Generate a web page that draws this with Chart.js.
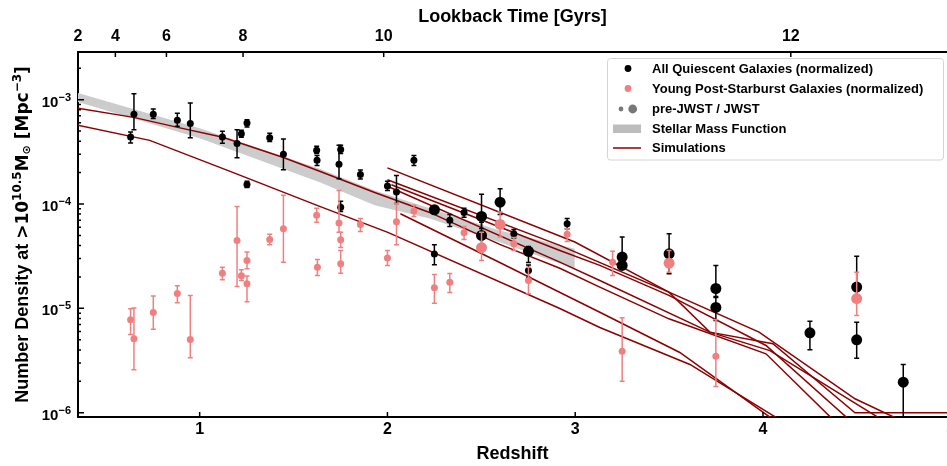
<!DOCTYPE html>
<html lang="en">
<head>
<meta charset="UTF-8">
<title>Quiescent galaxy number density</title>
<script src="https://cdn.jsdelivr.net/npm/chart.js"></script>
<style>
  html, body { margin: 0; padding: 0; background: #fff; overflow: hidden; }
  #wrap { width: 947px; height: 466px; }
</style>
</head>
<body>
<div id="wrap"><canvas id="grafico"></canvas></div>
<script>
// ---- values ----
// bottom axis (redshift) and top axis (lookback time, placed at redshift positions)
var zTicks = [1, 2, 3, 4, 5];
var lookbackLabels = ['2', '4', '6', '8', '10', '12'];
var lookbackZ = [0.352, 0.551, 0.823, 1.231, 1.980, 4.148];
var yTickVals = [1e-6, 1e-5, 1e-4, 1e-3];
var yTickExp = ['\u22126', '\u22125', '\u22124', '\u22123'];

// All quiescent galaxies, pre-JWST (small)
var qPreZ  = [0.632, 0.650, 0.753, 0.881, 0.950, 1.121, 1.199, 1.222, 1.252, 1.252, 1.373, 1.446, 1.623, 1.625, 1.742, 1.751, 1.751, 1.856, 2.000, 2.048, 2.141, 2.250, 2.332, 2.408, 2.673, 2.751, 2.957];
var qPreN  = [4.38e-4, 7.23e-4, 7.23e-4, 6.34e-4, 5.89e-4, 4.38e-4, 3.79e-4, 4.72e-4, 5.97e-4, 1.54e-4, 4.32e-4, 2.99e-4, 3.27e-4, 2.62e-4, 2.40e-4, 3.32e-4, 9.33e-5, 1.92e-4, 1.49e-4, 1.30e-4, 2.62e-4, 3.31e-5, 6.97e-5, 8.30e-5, 5.19e-5, 2.31e-5, 6.47e-5];
var qPreLo = [3.84e-4, 5.15e-4, 6.58e-4, 5.55e-4, 4.32e-4, 3.81e-4, 2.78e-4, 4.35e-4, 5.46e-4, 1.44e-4, 3.98e-4, 2.13e-4, 3.05e-4, 2.34e-4, 1.75e-4, 3.05e-4, 8.49e-5, 1.74e-4, 1.35e-4, 1.01e-4, 2.34e-4, 2.62e-5, 6.10e-5, 7.45e-5, 4.73e-5, 1.98e-5, 5.80e-5];
var qPreHi = [4.89e-4, 1.14e-3, 8.13e-4, 7.39e-4, 9.27e-4, 4.97e-4, 5.15e-4, 5.08e-4, 6.43e-4, 1.65e-4, 4.75e-4, 4.19e-4, 3.57e-4, 2.92e-4, 3.65e-4, 3.65e-4, 1.06e-4, 2.12e-4, 1.65e-4, 1.88e-4, 2.92e-4, 4.07e-5, 7.95e-5, 9.08e-5, 5.70e-5, 2.60e-5, 7.28e-5];

// All quiescent galaxies, JWST (large)
var qJwZ  = [2.250, 2.501, 2.501, 2.600, 2.751, 3.250, 3.250, 3.500, 3.749, 3.749, 4.250, 4.499, 4.499, 4.747];
var qJwN  = [8.81e-5, 7.60e-5, 5.00e-5, 1.04e-4, 3.52e-5, 3.10e-5, 2.58e-5, 3.33e-5, 1.55e-5, 1.02e-5, 5.83e-6, 1.60e-5, 5.00e-6, 1.96e-6];
var qJwLo = [8.10e-5, 5.83e-5, 4.01e-5, 7.94e-5, 2.75e-5, 2.60e-5, 2.42e-5, 2.15e-5, 1.30e-5, 7.66e-6, 4.01e-6, 1.19e-5, 3.33e-6, 5.00e-7];
var qJwHi = [9.50e-5, 1.24e-4, 6.67e-5, 1.40e-4, 3.92e-5, 4.82e-5, 3.00e-5, 5.19e-5, 2.58e-5, 1.27e-5, 7.53e-6, 3.15e-5, 7.38e-6, 2.90e-6];

// Young post-starburst galaxies, pre-JWST (small)
var pPreZ  = [0.330, 0.632, 0.650, 0.753, 0.881, 0.950, 1.121, 1.199, 1.222, 1.252, 1.252, 1.373, 1.446, 1.623, 1.627, 1.742, 1.751, 1.751, 1.856, 2.000, 2.048, 2.141, 2.250, 2.332, 2.408, 2.673, 2.751, 2.957, 3.199, 3.250, 3.749];
var pPreN  = [6.14e-6, 7.78e-6, 5.12e-6, 9.14e-6, 1.39e-5, 5.04e-6, 2.17e-5, 4.48e-5, 2.05e-5, 2.88e-5, 1.72e-5, 4.58e-5, 5.80e-5, 7.78e-5, 2.48e-5, 6.56e-5, 4.55e-5, 2.68e-5, 6.37e-5, 3.03e-5, 6.76e-5, 8.55e-5, 1.58e-5, 1.78e-5, 5.31e-5, 4.16e-5, 1.85e-5, 5.12e-5, 2.77e-5, 3.89e-6, 3.48e-6];
var pPreLo = [5.00e-6, 5.62e-6, 2.58e-6, 6.32e-6, 1.13e-5, 3.36e-6, 1.88e-5, 1.62e-5, 1.85e-5, 2.40e-5, 1.16e-5, 4.07e-5, 2.77e-5, 6.67e-5, 2.07e-5, 5.35e-5, 3.84e-5, 2.17e-5, 5.46e-5, 2.58e-5, 4.07e-5, 7.60e-5, 1.12e-5, 1.42e-5, 4.58e-5, 3.59e-5, 1.38e-5, 4.38e-5, 2.07e-5, 2.00e-6, 1.78e-6];
var pPreHi = [7.20e-6, 9.91e-6, 1.01e-5, 1.31e-5, 1.65e-5, 1.33e-5, 2.48e-5, 9.48e-5, 2.35e-5, 3.46e-5, 2.04e-5, 5.12e-5, 1.21e-4, 9.08e-5, 2.94e-5, 1.35e-4, 5.35e-5, 3.59e-5, 7.28e-5, 3.59e-5, 1.01e-4, 9.70e-5, 2.11e-5, 2.16e-5, 6.10e-5, 4.78e-5, 2.48e-5, 5.83e-5, 3.52e-5, 8.13e-6, 7.78e-6];

// Young post-starburst galaxies, JWST (large)
var pJwZ  = [2.501, 2.600, 3.500, 4.499];
var pJwN  = [3.81e-5, 6.37e-5, 2.71e-5, 1.24e-5];
var pJwLo = [2.88e-5, 4.82e-5, 2.22e-5, 8.55e-6];
var pJwHi = [5.35e-5, 8.36e-5, 3.59e-5, 2.22e-5];

// Stellar mass function band
var smfZ  = [0.352, 1.000, 1.639, 1.932, 2.225, 2.598, 2.998];
var smfHi = [1.156e-3, 5.31e-4, 2.18e-4, 1.35e-4, 9.08e-5, 5.58e-5, 3.72e-5];
var smfLo = [9.48e-4, 4.26e-4, 1.62e-4, 9.70e-5, 7.28e-5, 4.29e-5, 2.40e-5];

// Simulations
var sim1Z = [0.350, 0.648, 0.883, 1.123, 1.442, 1.639, 1.932, 2.225, 2.598, 2.918, 3.131, 3.499, 4.016, 4.367];
var sim1N = [8.26e-4, 6.76e-4, 5.42e-4, 4.36e-4, 2.80e-4, 2.06e-4, 1.29e-4, 8.30e-5, 4.10e-5, 2.42e-5, 1.60e-5, 7.94e-6, 3.67e-6, 8.8e-7];
var sim2Z = [0.350, 0.734, 1.176, 1.639, 2.002, 2.918, 3.131, 3.611, 4.079];
var sim2N = [5.68e-4, 4.07e-4, 2.01e-4, 9.48e-5, 5.35e-5, 9.98e-6, 6.56e-6, 2.90e-6, 8.8e-7];
var sim3Z = [2.069, 2.598, 3.131, 3.557, 4.047];
var sim3N = [8.07e-5, 2.75e-5, 9.18e-6, 3.78e-6, 8.8e-7];
var sim4Z = [2.000, 2.998, 3.499, 3.979, 4.490, 4.713];
var sim4N = [2.22e-4, 4.32e-5, 1.43e-5, 5.92e-6, 1.36e-6, 8.8e-7];
var sim5Z = [2.000, 2.918, 3.499, 3.717, 4.053, 4.490, 5.000];
var sim5N = [1.71e-4, 4.01e-5, 1.43e-5, 5.92e-6, 4.58e-6, 1.0e-6, 1.0e-6];
var sim6Z = [2.021, 2.918, 3.131, 3.499, 4.016, 4.452];
var sim6N = [1.53e-4, 3.59e-5, 2.58e-5, 1.33e-5, 4.41e-6, 8.8e-7];
var sim7Z = [2.000, 2.918, 3.131, 3.717, 4.037, 4.623];
var sim7N = [1.48e-4, 2.77e-5, 1.85e-5, 5.92e-6, 3.94e-6, 8.8e-7];

var legendLabels = ['All Quiescent Galaxies (normalized)', 'Young Post-Starburst Galaxies (normalized)', 'pre-JWST / JWST', 'Stellar Mass Function', 'Simulations'];

var FAM = '"Liberation Sans", Arial, Helvetica, sans-serif';
var MATH = '"DejaVu Sans", sans-serif';
var PINK = '#f08080';
var SIMRED = '#8b0000';

function pts(zs, ns) {
    return zs.map(function (z, i) { return { x: z, y: ns[i] }; });
}

// error bars, drawn just before their own dataset
const errorBars = {
    id: 'errorBars',
    beforeDatasetDraw(chart, args) {
        const ds = chart.data.datasets[args.index];
        if (!ds.errLo) return;
        const ctx = chart.ctx, a = chart.chartArea;
        const x = chart.scales.x, y = chart.scales.y;
        ctx.save();
        ctx.beginPath();
        ctx.rect(a.left, a.top, a.right - a.left, a.bottom - a.top);
        ctx.clip();
        ctx.strokeStyle = ds.barColor;
        ctx.lineWidth = 1.5;
        ds.data.forEach(function (p, i) {
            const px = x.getPixelForValue(p.x);
            const y0 = y.getPixelForValue(ds.errLo[i]);
            const y1 = y.getPixelForValue(ds.errHi[i]);
            ctx.beginPath();
            ctx.moveTo(px, y0); ctx.lineTo(px, y1);
            ctx.moveTo(px - 2.5, y0); ctx.lineTo(px + 2.5, y0);
            ctx.moveTo(px - 2.5, y1); ctx.lineTo(px + 2.5, y1);
            ctx.stroke();
        });
        ctx.restore();
    }
};

function setFont(ctx, p) {
    ctx.font = 'bold ' + p.size + 'px ' + (p.fam || FAM);
}

function richWidth(ctx, parts) {
    let w = 0;
    parts.forEach(function (p) {
        setFont(ctx, p);
        w += ctx.measureText(p.t).width;
    });
    return w;
}

function drawRich(ctx, parts, x, y) {
    parts.forEach(function (p) {
        setFont(ctx, p);
        ctx.fillText(p.t, x, y + p.dy);
        x += ctx.measureText(p.t).width;
    });
}

// inward ticks, y labels with exponents, y title and the legend
const decor = {
    id: 'decor',
    afterDraw(chart) {
        const ctx = chart.ctx, a = chart.chartArea;
        const x = chart.scales.x, x2 = chart.scales.x2, y = chart.scales.y;
        ctx.save();

        ctx.strokeStyle = '#000';
        ctx.lineWidth = 1.5;
        ctx.beginPath();
        zTicks.forEach(function (v) {
            const px = x.getPixelForValue(v);
            ctx.moveTo(px, a.bottom); ctx.lineTo(px, a.bottom - 5);
        });
        lookbackZ.forEach(function (v) {
            const px = x2.getPixelForValue(v);
            ctx.moveTo(px, a.top); ctx.lineTo(px, a.top + 5);
        });
        for (let e = -7; e <= -3; e++) {
            for (let m = 1; m < 10; m++) {
                const v = m * Math.pow(10, e);
                if (v < y.min || v > y.max) continue;
                const py = y.getPixelForValue(v);
                ctx.moveTo(a.left, py); ctx.lineTo(a.left + (m === 1 ? 6 : 3), py);
            }
        }
        ctx.stroke();

        // y tick labels 10^n
        ctx.fillStyle = '#000';
        ctx.textBaseline = 'alphabetic';
        ctx.textAlign = 'left';
        yTickVals.forEach(function (v, i) {
            const py = y.getPixelForValue(v);
            const parts = [{ t: '10', size: 15, dy: 0 }, { t: yTickExp[i], size: 11, dy: -6 }];
            const w = richWidth(ctx, parts);
            drawRich(ctx, parts, a.left - 7 - w, py + 7);
        });

        // y axis title
        const title = [
            { t: 'Number Density at ', size: 18, dy: 0 },
            { t: '>10', size: 17, dy: 0, fam: MATH },
            { t: '10.5', size: 12, dy: -7, fam: MATH },
            { t: 'M', size: 17, dy: 0, fam: MATH },
            { t: '\u2299', size: 11, dy: 2, fam: MATH },
            { t: ' [Mpc', size: 17, dy: 0, fam: MATH },
            { t: '\u22123', size: 12, dy: -7, fam: MATH },
            { t: ']', size: 17, dy: 0, fam: MATH }
        ];
        const tw = richWidth(ctx, title);
        ctx.save();
        ctx.translate(28, (a.top + a.bottom) / 2);
        ctx.rotate(-Math.PI / 2);
        drawRich(ctx, title, -tw / 2, 0);
        ctx.restore();

        // legend
        const lx = a.right - 339.5, ly = a.top + 6.5, lw = 336, lh = 101.5;
        ctx.fillStyle = 'rgba(255,255,255,0.85)';
        ctx.strokeStyle = '#d4d4d4';
        ctx.lineWidth = 1;
        ctx.beginPath();
        ctx.roundRect(lx, ly, lw, lh, 3);
        ctx.fill();
        ctx.stroke();

        const rows = [10, 30, 50.5, 70, 89.5];
        const mx = lx + 20.5;
        ctx.fillStyle = '#000';
        ctx.beginPath(); ctx.arc(mx, ly + rows[0], 3.4, 0, Math.PI * 2); ctx.fill();
        ctx.fillStyle = PINK;
        ctx.beginPath(); ctx.arc(mx, ly + rows[1], 3.4, 0, Math.PI * 2); ctx.fill();
        ctx.fillStyle = '#777';
        ctx.beginPath(); ctx.arc(mx - 7, ly + rows[2], 2.4, 0, Math.PI * 2); ctx.fill();
        ctx.beginPath(); ctx.arc(mx + 4.7, ly + rows[2], 4.4, 0, Math.PI * 2); ctx.fill();
        ctx.fillStyle = '#bdbdbd';
        ctx.fillRect(lx + 5.5, ly + rows[3] - 4, 28, 8.5);
        ctx.strokeStyle = SIMRED;
        ctx.lineWidth = 1.5;
        ctx.beginPath(); ctx.moveTo(lx + 5.5, ly + rows[4]); ctx.lineTo(lx + 33.5, ly + rows[4]); ctx.stroke();

        ctx.fillStyle = '#000';
        ctx.font = 'bold 13px ' + FAM;
        ctx.textBaseline = 'middle';
        legendLabels.forEach(function (t, i) {
            ctx.fillText(t, lx + 44.5, ly + rows[i] + 0.5);
        });

        ctx.restore();
    }
};

function simSet(zs, ns) {
    return {
        data: pts(zs, ns), borderColor: SIMRED, borderWidth: 1.5,
        pointRadius: 0, fill: false, tension: 0, order: 5
    };
}

function pointSet(zs, ns, lo, hi, color, r, order) {
    return {
        data: pts(zs, ns), showLine: false, pointRadius: r, pointHoverRadius: r,
        pointBackgroundColor: color, pointBorderWidth: 0, backgroundColor: color,
        borderColor: color, errLo: lo, errHi: hi, barColor: color, order: order
    };
}

var datasets = [
    { data: pts(smfZ, smfHi), fill: '+1', backgroundColor: '#cccccc', borderWidth: 0, pointRadius: 0, order: 10 },
    { data: pts(smfZ, smfLo), fill: false, borderWidth: 0, pointRadius: 0, order: 10 },
    simSet(sim1Z, sim1N), simSet(sim2Z, sim2N), simSet(sim3Z, sim3N), simSet(sim4Z, sim4N),
    simSet(sim5Z, sim5N), simSet(sim6Z, sim6N), simSet(sim7Z, sim7N),
    pointSet(qPreZ, qPreN, qPreLo, qPreHi, '#000', 3.5, 3),
    pointSet(qJwZ, qJwN, qJwLo, qJwHi, '#000', 5.5, 3),
    pointSet(pPreZ, pPreN, pPreLo, pPreHi, PINK, 3.5, 1),
    pointSet(pJwZ, pJwN, pJwLo, pJwHi, PINK, 5.5, 1)
];

// fixed axis band sizes; drop the side padding chart.js adds for edge labels
function fitX(h) {
    return function (s) { s.height = h; s.paddingLeft = 0; s.paddingRight = 0; };
}

Chart.defaults.font.family = FAM;
Chart.defaults.font.weight = 'bold';
Chart.defaults.color = '#000';

var ctx = document.getElementById('grafico').getContext('2d');
var myChart = new Chart(ctx, {
    type: 'line',
    data: { datasets: datasets },
    plugins: [errorBars, decor],
    options: {
        responsive: true,
        maintainAspectRatio: false,
        animation: false,
        events: [],
        layout: { padding: 0, autoPadding: false },
        plugins: { legend: { display: false }, tooltip: { enabled: false } },
        scales: {
            x: {
                type: 'linear', position: 'bottom', min: 0.352, max: 4.98,
                afterBuildTicks: function (s) { s.ticks = zTicks.map(function (v) { return { value: v }; }); },
                afterFit: fitX(49),
                grid: { display: false, drawTicks: false },
                border: { display: true, color: '#000', width: 2 },
                ticks: { autoSkip: false, maxRotation: 0, padding: 3, font: { size: 16, weight: 'bold' } },
                title: { display: true, text: 'Redshift', font: { size: 18, weight: 'bold' }, padding: { top: 0, bottom: 1 } }
            },
            x2: {
                type: 'linear', position: 'top', min: 0.352, max: 4.98,
                afterBuildTicks: function (s) { s.ticks = lookbackZ.map(function (v) { return { value: v }; }); },
                afterFit: fitX(52),
                grid: { display: false, drawTicks: false },
                border: { display: true, color: '#000', width: 2 },
                ticks: {
                    autoSkip: false, maxRotation: 0, padding: 5.5, font: { size: 16, weight: 'bold' },
                    callback: function (v, i) { return lookbackLabels[i]; }
                },
                title: { display: true, text: 'Lookback Time [Gyrs]', font: { size: 18, weight: 'bold' }, padding: { top: 6, bottom: 0 } }
            },
            y: {
                type: 'logarithmic', position: 'left', min: 9.1e-7, max: 2.86e-3,
                afterFit: function (s) { s.width = 78; },
                grid: { display: false, drawTicks: false },
                border: { display: true, color: '#000', width: 2 },
                ticks: { display: false }
            }
        }
    }
});
</script>
</body>
</html>
